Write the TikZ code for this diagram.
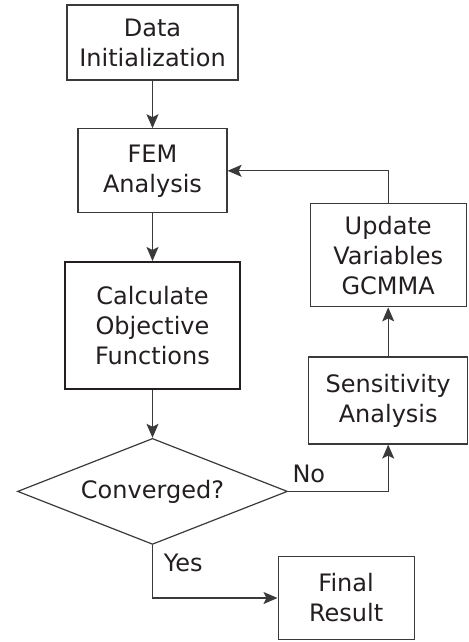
\documentclass[tikz,border=0pt]{standalone}
\usepackage{fontspec}
\setmainfont{DejaVu Sans}
\usepackage{xcolor}
\definecolor{inkdark}{HTML}{231F20}
\definecolor{linegray}{HTML}{3A3A3A}
\usepackage{tikz}
\usetikzlibrary{shapes.geometric, arrows.meta, positioning}
\tikzset{
  fbox/.style ={rectangle, draw=linegray, line width=0.6pt, fill=white, text=inkdark,
                align=center, inner sep=2pt, font=\fontsize{12}{15}\selectfont},
  fboxb/.style={fbox, line width=1.1pt, draw=inkdark},
  fdec/.style ={diamond, aspect=2.5, draw=linegray, line width=0.6pt, fill=white, text=inkdark,
                align=center, inner sep=1pt, font=\fontsize{12}{15}\selectfont},
  farr/.style ={-{Stealth[length=7pt, width=6pt, inset=1.5pt]}, line width=0.6pt, color=linegray},
  flbl/.style ={font=\fontsize{12}{15}\selectfont, text=inkdark, inner sep=2pt},
}
\begin{document}
\begin{tikzpicture}[node distance=23.8pt]
  \useasboundingbox (-76.25pt,21.25pt) rectangle (158.25pt,-299.75pt);
  % main column
  \node[fbox, minimum width=85.5pt, minimum height=37.5pt] (init) {Data\\Initialization};
  \node[fbox, minimum width=74.5pt, minimum height=42pt, below=of init] (fem) {FEM\\Analysis};
  \node[fboxb, minimum width=87.5pt, minimum height=63.5pt, below=of fem] (calc) {Calculate\\Objective\\Functions};
  \node[fdec, minimum width=135pt, minimum height=53pt, below=of calc] (conv) {Converged?};
  % optimisation loop
  \node[fbox, minimum width=78pt, minimum height=51.5pt, right=41pt of fem, yshift=-42.25pt] (upd) {Update\\Variables\\GCMMA};
  \node[fbox, minimum width=79.5pt, minimum height=43.5pt, below=24.5pt of upd] (sens) {Sensitivity\\Analysis};
  \node[fbox, minimum width=68pt, minimum height=41.5pt, right=62.5pt of conv.south, yshift=-26.5pt] (final) {Final\\Result};
  \draw[farr] (init) -- (fem);
  \draw[farr] (fem) -- (calc);
  \draw[farr] (calc) -- (conv);
  \draw[farr] (conv.east) -| (sens.south);
  \draw[farr] (sens) -- (upd);
  \draw[farr] (upd.north) |- (fem.east);
  \draw[farr] (conv.south) |- (final.west);
  \node[flbl, anchor=south west, yshift=2pt] (nolbl) at (conv.east) {No};
  \node[flbl, anchor=north west, xshift=3.5pt, yshift=-2.5pt] (yeslbl) at (conv.south) {Yes};
\end{tikzpicture}
\end{document}
